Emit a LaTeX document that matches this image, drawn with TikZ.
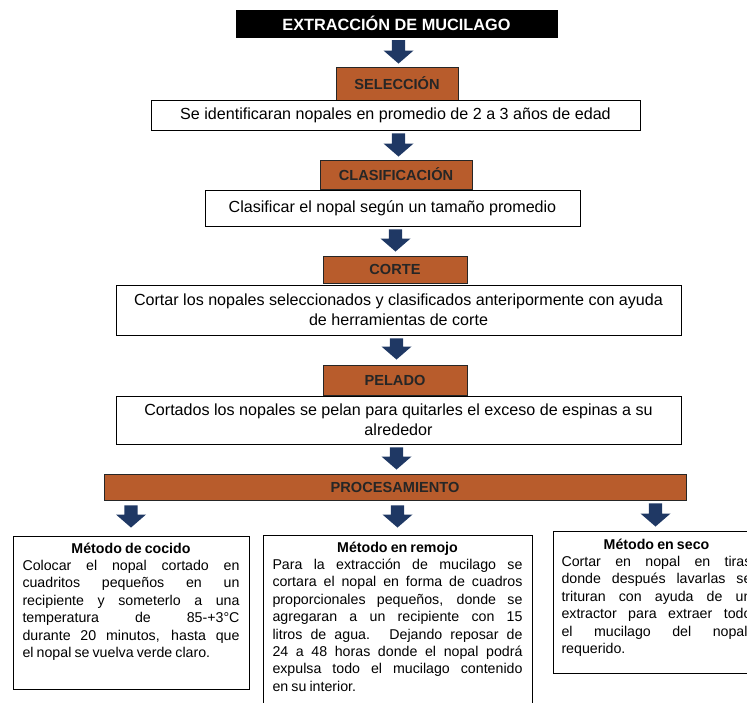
\documentclass[tikz,border=0pt]{standalone}
\usepackage{fontspec}
\setmainfont{Liberation Sans}
\usetikzlibrary{calc}
\definecolor{orangebox}{RGB}{184,92,44}
\definecolor{navyarrow}{RGB}{31,56,100}
\begin{document}
\begin{tikzpicture}[x=1pt,y=-1pt,
  titlebox/.style={fill=black,draw=black,text=white,font=\bfseries\fontsize{16.3}{18}\selectfont,inner sep=0pt},
  hdr/.style={draw=black!85,line width=0.9pt,fill=orangebox,text=black!85,font=\bfseries\fontsize{14.6}{16}\selectfont,inner sep=0pt},
  txtbox/.style={draw=black,line width=0.9pt,fill=white,align=center,font=\fontsize{16.1}{20}\selectfont,inner sep=0pt},
  methbox/.style={draw=black,line width=0.9pt,fill=white,inner sep=0pt},
  methtxt/.style={anchor=north,align=justify,inner sep=0pt,font=\fontsize{14.2}{17.4}\selectfont},
  blk/.style={to path={let \p1=(\tikztostart),\p2=(\tikztotarget) in
    ({\x1-6.7pt},\y1) -- ({\x1-6.7pt},{\y2+13pt}) -- ({\x1-15pt},{\y2+13pt}) -- (\x1,\y2)
    -- ({\x1+15pt},{\y2+13pt}) -- ({\x1+6.7pt},{\y2+13pt}) -- ({\x1+6.7pt},\y1) -- cycle}}]
\useasboundingbox (0,0) rectangle (747,703);
\clip (0,0) rectangle (747,703);
% title
\node[titlebox,minimum width=321pt,minimum height=27pt] (title) at (396.5,23.5) {EXTRACCIÓN DE MUCILAGO};
% steps
\node[hdr,minimum width=122pt,minimum height=33pt] (sel) at (397,83.5) {SELECCIÓN};
\node[txtbox,minimum width=489pt,minimum height=30pt] (t1) at (395.5,115) {Se identificaran nopales en promedio de 2 a 3 años de edad};
\node[hdr,minimum width=152pt,minimum height=29pt] (cla) at (396,174.5) {CLASIFICACIÓN};
\node[txtbox,minimum width=375pt,minimum height=36pt] (t2) at (392.5,208) {Clasificar el nopal según un tamaño promedio};
\node[hdr,minimum width=144pt,minimum height=27pt] (cor) at (395,269.5) {CORTE};
\node[txtbox,minimum width=565pt,minimum height=50pt] (t3) at (398.5,310) {Cortar los nopales seleccionados y clasificados anteripormente con ayuda\\de herramientas de corte};
\node[hdr,minimum width=144pt,minimum height=30pt] (pel) at (395,380) {PELADO};
\node[txtbox,minimum width=565pt,minimum height=48pt] (t4) at (398.5,420) {Cortados los nopales se pelan para quitarles el exceso de espinas a su\\alrededor};
\node[hdr,minimum width=582pt,minimum height=26pt] (proc) at (395,487) {PROCESAMIENTO};
% method boxes
\node[methbox,minimum width=236pt,minimum height=153pt] (coc) at (131,612.5) {};
\node[methbox,minimum width=269pt,minimum height=185pt] (rem) at (397.5,627.5) {};
\node[methbox,minimum width=207pt,minimum height=142pt] (sec) at (656.5,602) {};
\node[methtxt,text width=217pt] (coctxt) at ($(coc.north)+(0,7)$) {\spaceskip=0.22em plus 2em minus 0.03em\relax{\centering\bfseries Método de cocido\par}Colocar el nopal cortado en\linebreak cuadritos pequeños en un\linebreak recipiente y someterlo a una\linebreak temperatura de 85-+3°C\linebreak durante 20 minutos, hasta que\linebreak el nopal se vuelva verde claro.};
\node[methtxt,text width=250pt] (remtxt) at ($(rem.north)+(0,7)$) {\spaceskip=0.22em plus 2em minus 0.03em\relax{\centering\bfseries Método en remojo\par}Para la extracción de mucilago se\linebreak cortara el nopal en forma de cuadros\linebreak proporcionales pequeños, donde se\linebreak agregaran a un recipiente con 15\linebreak litros de agua. Dejando reposar de\linebreak 24 a 48 horas donde el nopal podrá\linebreak expulsa todo el mucilago contenido\linebreak en su interior.};
\node[methtxt,text width=190pt] (sectxt) at ($(sec.north)+(0,8)$) {\spaceskip=0.22em plus 2em minus 0.03em\relax{\centering\bfseries Método en seco\par}Cortar en nopal en tiras\linebreak donde después lavarlas se\linebreak trituran con ayuda de un\linebreak extractor para extraer todo\linebreak el mucilago del nopal,\linebreak requerido.};
% arrows
\fill[navyarrow] ($(title.south)+(2,3)$) to[blk] ($(sel.north)+(2,-3)$);
\fill[navyarrow] ($(t1.south)+(3,3)$) to[blk] ($(cla.north)+(3,-3)$);
\fill[navyarrow] ($(t2.south)+(3,3)$) to[blk] ($(cor.north)+(3,-4)$);
\fill[navyarrow] ($(t3.south)+(-2,3)$) to[blk] ($(pel.north)+(-2,-5)$);
\fill[navyarrow] ($(t4.south)+(-2,3)$) to[blk] ($(proc.north)+(-2,-4)$);
\fill[navyarrow] ($(proc.south -| coc.north)+(0,5)$) to[blk] ($(coc.north)+(0,-8)$);
\fill[navyarrow] ($(proc.south -| rem.north)+(0,5)$) to[blk] ($(rem.north)+(0,-7)$);
\fill[navyarrow] ($(proc.south -| sec.north)+(-1,3)$) to[blk] ($(sec.north)+(-1,-4)$);
\end{tikzpicture}
\end{document}
